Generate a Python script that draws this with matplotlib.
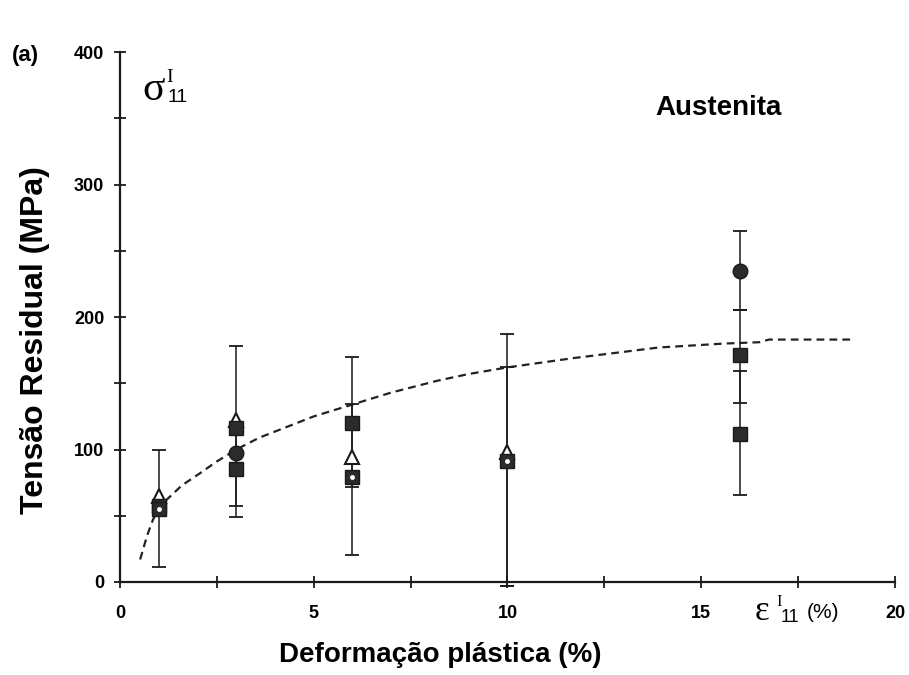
import numpy as np
import matplotlib
matplotlib.use('Agg')
import matplotlib.pyplot as plt
from matplotlib.ticker import MultipleLocator

plt.rcParams['font.family'] = ['Liberation Sans', 'DejaVu Sans']

W, H = 909, 675

# measured residual stress points (MPa) vs plastic strain (%)
x_circ = [3, 16]
y_circ = [97, 235]

x_sq = [1, 3, 3, 6, 16, 16]
y_sq = [57, 116, 85, 120, 171, 112]

x_tri = [1, 3, 6, 10]
y_tri = [65, 122, 94, 98]

x_dsq = [1, 6, 10]
y_dsq = [55, 79, 91]

# error bars given as lower / upper limits
err_x = [1, 3, 3, 6, 6, 10, 10, 16, 16, 16]
err_lo = [11, 49, 57, 20, 72, -3, -3, 205, 135, 66]
err_hi = [100, 178, 113, 170, 134, 187, 162, 265, 205, 159]

# fitted trend (dashed)
fit_x = [0.52, 0.7, 0.85, 1.0, 1.2, 1.6, 2.06, 2.5, 3.0, 3.6, 4.3, 5.0, 6.0,
         7.0, 8.2, 9.0, 10.0, 11.7, 13.9, 15.6, 16.5, 16.75, 18.9]
fit_y = [17, 35, 47, 55, 62, 73, 82, 91, 100, 109, 117, 125, 134,
         143, 152, 157, 162, 169, 177, 180, 181, 183, 183]


def px(x, y):
    return x / W, 1 - y / H


fig = plt.figure(figsize=(W / 100, H / 100), dpi=100)
ax = fig.add_axes([0.132, 0.1378, 0.8526, 0.785])

ax.plot(fit_x, fit_y, color='#222222', lw=1.6, dashes=(3.5, 2.3), zorder=2)

err_x = np.array(err_x)
err_lo = np.array(err_lo)
err_hi = np.array(err_hi)
mid = (err_lo + err_hi) / 2.0
ax.errorbar(err_x, mid, yerr=[mid - err_lo, err_hi - mid], fmt='none',
            ecolor='#1a1a1a', elinewidth=1.1, capsize=5, capthick=1.3,
            zorder=3, clip_on=False)

ax.plot(x_tri, y_tri, '^', ms=10, mfc='white', mec='#1a1a1a', mew=1.5, zorder=4)
ax.plot(x_sq, y_sq, 's', ms=10, mfc='#2b2b2b', mec='#1a1a1a', zorder=5)
ax.plot(x_dsq, y_dsq, 's', ms=9.5, mfc='#2b2b2b', mec='#1a1a1a', zorder=5)
ax.plot(x_dsq, y_dsq, 'o', ms=2.5, mfc='white', mec='white', zorder=6)
ax.plot(x_circ, y_circ, 'o', ms=10.5, mfc='#2b2b2b', mec='#1a1a1a', zorder=6)

ax.set_xlim(0, 20)
ax.set_ylim(0, 400)
ax.spines['top'].set_visible(False)
ax.spines['right'].set_visible(False)
for s in ['left', 'bottom']:
    ax.spines[s].set_linewidth(1.6)
    ax.spines[s].set_color('#1a1a1a')

ax.xaxis.set_major_locator(MultipleLocator(5))
ax.xaxis.set_minor_locator(MultipleLocator(2.5))
ax.yaxis.set_major_locator(MultipleLocator(100))
ax.yaxis.set_minor_locator(MultipleLocator(50))
ax.tick_params(which='both', direction='inout', length=8.5, width=1.3, color='#1a1a1a')
ax.tick_params(axis='x', pad=12)
ax.tick_params(axis='y', pad=7)
for lab in ax.get_yticklabels():
    lab.set_fontweight('bold')
    lab.set_fontsize(13)
for lab in ax.get_xticklabels():
    lab.set_fontweight('bold')
    lab.set_fontsize(13)
    lab.set_family(['Liberation Sans Narrow', 'Liberation Sans'])

fig.text(*px(35, 340), 'Tensão Residual (MPa)', rotation=90,
         ha='center', va='center', fontsize=23, fontweight='bold')
fig.text(*px(440, 655), 'Deformação plástica (%)',
         ha='center', va='center', fontsize=20, fontweight='bold')
fig.text(*px(12, 55), '(a)', ha='left', va='center',
         fontsize=16, fontweight='bold')
fig.text(*px(655, 108), 'Austenita', ha='left', va='center',
         fontsize=20, fontweight='bold')

# stress component label, top left
fig.text(*px(154, 90), 'σ', ha='center', va='center', fontsize=30,
         family='Liberation Serif')
fig.text(*px(170, 77), 'I', ha='center', va='center', fontsize=14,
         family='Liberation Serif')
fig.text(*px(178, 97), '11', ha='center', va='center', fontsize=14)

# strain component label next to the x axis
fig.text(*px(762, 611), 'ε', ha='center', va='center', fontsize=25,
         family='Liberation Serif')
fig.text(*px(779, 602), 'I', ha='center', va='center', fontsize=12,
         family='Liberation Serif')
fig.text(*px(790, 617), '11', ha='center', va='center', fontsize=13)
fig.text(*px(823, 612), '(%)', ha='center', va='center', fontsize=15)

fig.savefig('out.png', dpi=100)
